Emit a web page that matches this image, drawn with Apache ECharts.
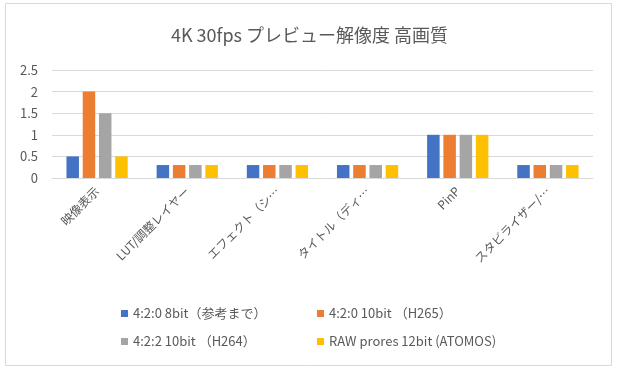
<!DOCTYPE html>
<html><head><meta charset="utf-8">
<script src="https://cdn.jsdelivr.net/npm/echarts@6/dist/echarts.min.js"></script>
<style>html,body{margin:0;padding:0;background:#fff}#c{width:619px;height:371px}</style>
</head><body><div id="c"></div>
<script>
const categories = ['映像表示', 'LUT/調整レイヤー', 'エフェクト（シ…', 'タイトル（ディ…', 'PinP', 'スタビライザー/…'];
const seriesNames = ['4:2:0 8bit（参考まで）', '4:2:0 10bit （H265）', '4:2:2 10bit （H264）', 'RAW prores 12bit (ATOMOS)'];
const s1 = [0.5, 0.3, 0.3, 0.3, 1.0, 0.3];
const s2 = [2.0, 0.3, 0.3, 0.3, 1.0, 0.3];
const s3 = [1.5, 0.3, 0.3, 0.3, 1.0, 0.3];
const s4 = [0.5, 0.3, 0.3, 0.3, 1.0, 0.3];
const colors = ['#4472C4', '#ED7D31', '#A5A5A5', '#FFC000'];
const font = '"Noto Sans CJK JP", "Noto Sans", sans-serif';
const values = [s1, s2, s3, s4];
const legendPos = [[121, 307], [317, 307], [121, 335], [317, 335]];

const chart = echarts.init(document.getElementById('c'));
chart.setOption({
  animation: false,
  backgroundColor: '#fff',
  color: colors,
  title: {
    text: '4K 30fps プレビュー解像度 高画質',
    left: 'center', top: 21,
    textStyle: { fontFamily: font, fontSize: 18, fontWeight: 'normal', color: '#595959' }
  },
  graphic: [{
    type: 'rect', z: -1, silent: true,
    shape: { x: 5.5, y: 3.5, width: 606, height: 362 },
    style: { fill: 'none', stroke: '#d9d9d9', lineWidth: 1 }
  }],
  legend: seriesNames.map((n, i) => ({
    data: [n], left: legendPos[i][0], top: legendPos[i][1],
    itemWidth: 7, itemHeight: 7, icon: 'rect', padding: 0,
    textStyle: { fontFamily: font, fontSize: 13, color: '#595959' }
  })),
  grid: { left: 52, right: 26, top: 70, bottom: 193, containLabel: false },
  xAxis: {
    type: 'category', data: categories,
    axisLine: { show: true, lineStyle: { color: '#d9d9d9' } },
    axisTick: { show: false },
    axisLabel: { rotate: 45, margin: 11, interval: 0, fontFamily: font, fontSize: 12, color: '#595959' }
  },
  yAxis: {
    type: 'value', min: 0, max: 2.5, interval: 0.5,
    axisLine: { show: false }, axisTick: { show: false },
    splitLine: { lineStyle: { color: '#d9d9d9' } },
    axisLabel: { margin: 14, fontFamily: font, fontSize: 13, color: '#595959' }
  },
  series: seriesNames.map((n, i) => ({
    name: n, type: 'bar', data: values[i],
    barWidth: 12.5, barGap: '30%'
  }))
});
</script></body></html>
